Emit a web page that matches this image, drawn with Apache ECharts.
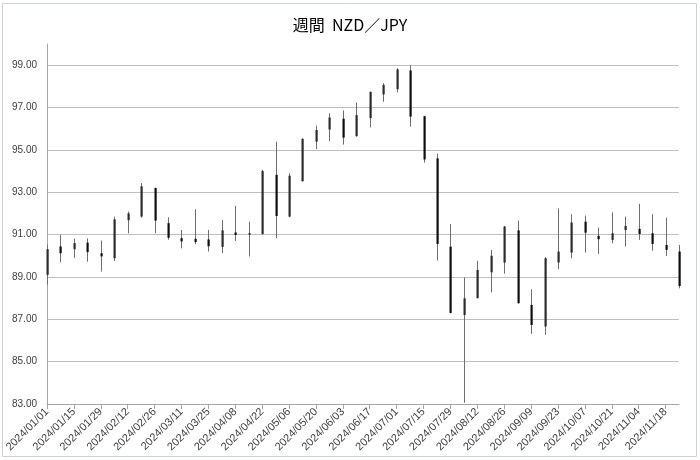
<!DOCTYPE html>
<html>
<head>
<meta charset="utf-8">
<script src="https://cdn.jsdelivr.net/npm/echarts@6/dist/echarts.min.js"></script>
<style>
html,body{margin:0;padding:0;background:#fff;}
#chart{width:700px;height:460px;}
</style>
</head>
<body>
<div id="chart"></div>
<script>
var categories = ['2024/01/01','2024/01/08','2024/01/15','2024/01/22','2024/01/29','2024/02/05','2024/02/12','2024/02/19','2024/02/26','2024/03/04','2024/03/11','2024/03/18','2024/03/25','2024/04/01','2024/04/08','2024/04/15','2024/04/22','2024/04/29','2024/05/06','2024/05/13','2024/05/20','2024/05/27','2024/06/03','2024/06/10','2024/06/17','2024/06/24','2024/07/01','2024/07/08','2024/07/15','2024/07/22','2024/07/29','2024/08/05','2024/08/12','2024/08/19','2024/08/26','2024/09/02','2024/09/09','2024/09/16','2024/09/23','2024/09/30','2024/10/07','2024/10/14','2024/10/21','2024/10/28','2024/11/04','2024/11/11','2024/11/18','2024/11/25'];
var openVals  = [89.10,90.44,90.31,90.62,90.12,89.88,91.68,91.85,93.20,91.54,90.83,90.80,90.77,90.42,91.10,91.00,91.03,93.82,91.85,93.52,95.39,95.96,96.47,95.65,96.50,97.62,97.87,98.75,96.59,94.60,90.43,87.20,88.00,89.22,89.68,91.20,87.68,86.66,89.68,90.15,91.61,90.94,90.75,91.22,91.27,91.06,90.51,90.20];
var highVals  = [90.52,90.99,90.81,90.82,90.72,91.85,92.09,93.43,93.22,91.82,91.22,92.20,91.22,91.69,92.35,91.61,94.06,95.39,93.90,95.55,96.15,96.73,96.86,97.23,97.75,98.15,98.86,99.00,96.61,94.82,91.50,88.98,89.76,90.27,91.41,91.66,88.42,89.93,92.24,91.96,91.90,91.33,92.05,91.85,92.45,91.96,91.80,90.51];
var lowVals   = [88.63,89.70,89.90,89.72,89.25,89.75,91.06,91.80,91.06,90.76,90.35,90.55,90.20,90.12,90.70,89.96,91.00,90.83,91.82,93.50,95.03,95.41,95.25,95.62,96.06,97.27,97.71,96.10,94.40,89.78,87.28,83.06,87.98,88.27,89.15,87.74,86.31,86.27,89.36,89.88,90.15,90.09,90.59,90.43,90.75,90.24,89.99,88.46];
var closeVals = [90.31,90.12,90.60,90.17,89.97,91.72,92.00,93.28,91.66,90.85,90.68,90.65,90.45,91.20,90.98,91.07,94.00,91.88,93.78,95.52,95.94,96.53,95.58,96.64,97.74,98.07,98.80,96.57,94.55,90.56,87.30,87.99,89.33,90.00,91.38,87.76,86.73,89.88,90.20,91.57,91.09,90.78,91.06,91.41,91.03,90.56,90.28,88.57];

var seriesData = categories.map(function (c, i) {
  return [i, openVals[i], closeVals[i], lowVals[i], highVals[i]];
});

function renderCandle(params, api) {
  var idx = api.value(0);
  var pO = api.coord([idx, api.value(1)]);
  var pC = api.coord([idx, api.value(2)]);
  var pL = api.coord([idx, api.value(3)]);
  var pH = api.coord([idx, api.value(4)]);
  var x = Math.round(pO[0]);
  var up = api.value(2) >= api.value(1);
  var top = Math.min(pO[1], pC[1]);
  var h = Math.max(Math.abs(pO[1] - pC[1]), 1.5);
  return {
    type: 'group',
    children: [{
      type: 'line',
      shape: {x1: x + 0.5, y1: pH[1], x2: x + 0.5, y2: pL[1]},
      style: {stroke: '#6e6e6e', lineWidth: 1}
    }, {
      type: 'rect',
      shape: {x: x - 0.5, y: top, width: 2.2, height: h},
      style: {fill: up ? '#2b2b2b' : '#0d0d0d'}
    }]
  };
}

var chart = echarts.init(document.getElementById('chart'), null, {renderer: 'canvas'});
chart.setOption({
  animation: false,
  backgroundColor: '#ffffff',
  title: {
    text: '週間  NZD／JPY',
    left: 'center',
    top: 12,
    textStyle: {
      fontFamily: '"Noto Sans CJK JP", "Noto Sans", sans-serif',
      fontSize: 16,
      fontWeight: 'normal',
      color: '#000000'
    }
  },
  graphic: [{
    type: 'rect',
    shape: {x: 2.5, y: 3.5, width: 694, height: 453},
    style: {fill: 'none', stroke: '#c9d2d9', lineWidth: 1},
    silent: true
  }],
  grid: {left: 47, right: 21, top: 44, bottom: 56},
  xAxis: {
    type: 'category',
    data: categories,
    boundaryGap: false,
    axisLine: {show: true, lineStyle: {color: '#a6a6a6', width: 1}},
    axisTick: {show: true, interval: 1, length: 5, lineStyle: {color: '#a6a6a6'}},
    axisLabel: {
      interval: 1,
      rotate: 45,
      margin: 6,
      fontSize: 11,
      fontFamily: '"Liberation Sans", Arial, sans-serif',
      color: '#404040'
    },
    splitLine: {show: false}
  },
  yAxis: {
    type: 'value',
    min: 83,
    max: 100,
    interval: 2,
    axisLine: {show: true, lineStyle: {color: '#a6a6a6', width: 1}},
    axisTick: {show: false},
    axisLabel: {
      showMaxLabel: false,
      margin: 10,
      fontSize: 10,
      fontFamily: '"Liberation Sans", Arial, sans-serif',
      color: '#404040',
      formatter: function (v) { return v >= 100 ? '' : v.toFixed(2); }
    },
    splitLine: {show: true, showMaxLine: false, lineStyle: {color: '#bfbfbf', width: 1}}
  },
  series: [{
    type: 'custom',
    renderItem: renderCandle,
    data: seriesData,
    clip: false,
    encode: {x: 0, y: [1, 2, 3, 4]}
  }]
});
</script>
</body>
</html>
